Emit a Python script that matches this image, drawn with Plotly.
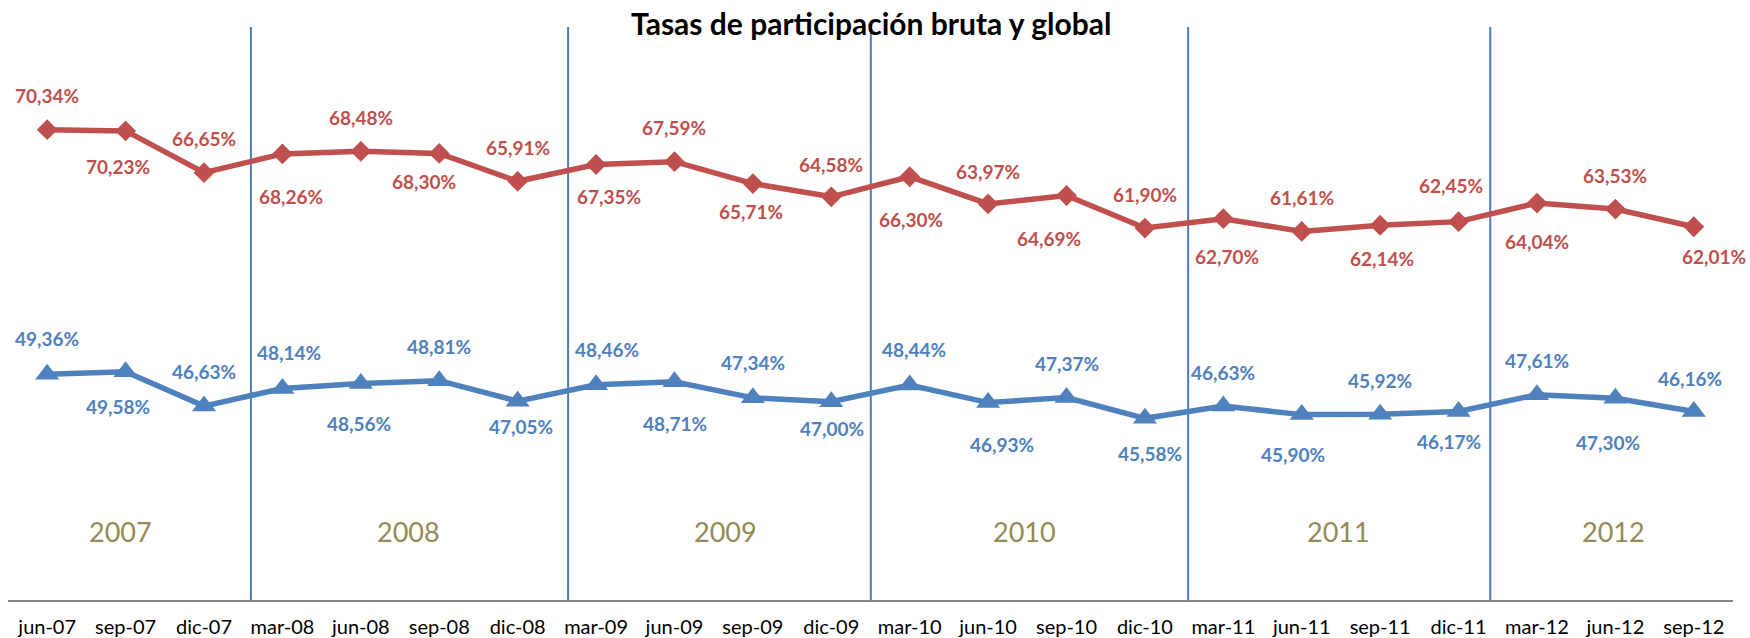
import plotly.graph_objects as go

# ---- data ----
categories = ["jun-07", "sep-07", "dic-07",
              "mar-08", "jun-08", "sep-08", "dic-08",
              "mar-09", "jun-09", "sep-09", "dic-09",
              "mar-10", "jun-10", "sep-10", "dic-10",
              "mar-11", "jun-11", "sep-11", "dic-11",
              "mar-12", "jun-12", "sep-12"]
tasa_global = [70.34, 70.23, 66.65, 68.26, 68.48, 68.30, 65.91, 67.35, 67.59, 65.71, 64.58,
               66.30, 63.97, 64.69, 61.90, 62.70, 61.61, 62.14, 62.45, 64.04, 63.53, 62.01]
tasa_bruta = [49.36, 49.58, 46.63, 48.14, 48.56, 48.81, 47.05, 48.46, 48.71, 47.34, 47.00,
              48.44, 46.93, 47.37, 45.58, 46.63, 45.90, 45.92, 46.17, 47.61, 47.30, 46.16]
years = ["2007", "2008", "2009", "2010", "2011", "2012"]
title = "Tasas de participación bruta y global"

# ---- layout helpers (positions of decorations, in axis units / pixels) ----
year_label_x = [0.935, 4.607, 8.657, 12.467, 16.47, 19.98]
year_label_y = 35.9
divider_x = [2.598, 6.643, 10.504, 14.551, 18.404]
red_dx = [0, -8, 0, 9, 0, -15, 0, 13, 0, -2, 0, 1, 0, -18, 0, 4, 0, 2, -8, 0, 0, 20]
red_dy = [-34, 36, -34, 43, -34, 28, -34, 32, -34, 28, -32, 43, -32, 43, -34, 38, -34, 33, -36, 38, -34, 30]
blue_dx = [0, -8, 0, 7, -2, 0, 3, 11, 1, 0, 1, 4, 14, 0, 5, 0, -9, 0, -10, 0, -7, -4]
blue_dy = [-36, 35, -35, -36, 40, -34, 25, -35, 42, -35, 27, -35, 42, -34, 35, -34, 40, -34, 30, -34, 44, -33]

RED = "#C0504D"
BLUE = "#4F81BD"
xs = list(range(len(categories)))

def fmt(v):
    return f"{v:.2f}".replace(".", ",") + "%"

fig = go.Figure()
fig.add_trace(go.Scatter(x=xs, y=tasa_global, mode="lines+markers", name="Tasa global",
                         line=dict(color=RED, width=5.5),
                         marker=dict(symbol="diamond", size=16, color=RED),
                         hoverinfo="skip", showlegend=False))
fig.add_trace(go.Scatter(x=xs, y=tasa_bruta, mode="lines+markers", name="Tasa bruta",
                         line=dict(color=BLUE, width=5.5),
                         marker=dict(symbol="triangle-up", size=21, color=BLUE),
                         hoverinfo="skip", showlegend=False))

annotations = []
label_font = dict(family="Lato", size=19)
for i, v in enumerate(tasa_global):
    annotations.append(dict(x=xs[i], y=v, text="<b>" + fmt(v) + "</b>", showarrow=False,
                            xshift=red_dx[i], yshift=-red_dy[i],
                            font=dict(color=RED, **label_font)))
for i, v in enumerate(tasa_bruta):
    annotations.append(dict(x=xs[i], y=v, text="<b>" + fmt(v) + "</b>", showarrow=False,
                            xshift=blue_dx[i], yshift=-blue_dy[i],
                            font=dict(color=BLUE, **label_font)))
for yx, yr in zip(year_label_x, years):
    annotations.append(dict(x=yx, y=year_label_y, text=yr, showarrow=False,
                            font=dict(family="Lato", size=27, color="#948A54")))
annotations.append(dict(xref="paper", yref="paper", x=0.5, y=1, yshift=-6, yanchor="middle",
                        text="<b>" + title + "</b>", showarrow=False,
                        font=dict(family="Lato", size=30, color="black")))

shapes = []
for dx in divider_x:
    shapes.append(dict(type="line", xref="x", yref="y", x0=dx, x1=dx, y0=29.8, y1=79.15,
                       line=dict(color="#4A7EBB", width=2), layer="below"))

fig.update_layout(
    width=1750, height=638,
    margin=dict(l=8, r=17, t=17, b=38),
    paper_bgcolor="white", plot_bgcolor="white",
    annotations=annotations, shapes=shapes,
    xaxis=dict(range=[-0.5, len(categories) - 0.5], tickvals=xs, ticktext=categories,
               showgrid=False, zeroline=False, showline=True, linecolor="#868686", linewidth=2,
               ticks="", ticklabelstandoff=8, automargin=False,
               tickfont=dict(family="Lato", size=20, color="black")),
    yaxis=dict(range=[30, 80], visible=False, showgrid=False, zeroline=False),
)

# remove the browser's default 8px body margin so the figure fills the window exactly
fig.write_html("out.html",
               config={"displayModeBar": False},
               post_script="document.body.style.margin='0px';document.body.style.overflow='hidden';")
